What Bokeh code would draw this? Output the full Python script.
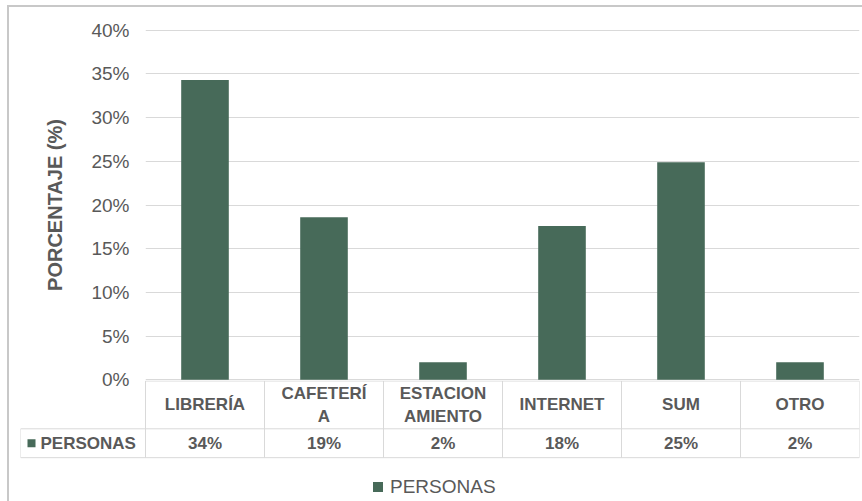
import numpy as np
from bokeh.plotting import figure
from bokeh.layouts import column
from bokeh.models import Range1d, FixedTicker, NumeralTickFormatter, Legend, LegendItem
from bokeh.core.properties import value
from bokeh.embed import file_html
from bokeh.resources import INLINE

# ---- data ----
categories = ["LIBRERÍA", "CAFETERÍA", "ESTACIONAMIENTO", "INTERNET", "SUM", "OTRO"]
category_labels = ["LIBRERÍA", "CAFETERÍ\nA", "ESTACION\nAMIENTO", "INTERNET", "SUM", "OTRO"]
personas = [0.343, 0.186, 0.020, 0.176, 0.249, 0.020]
series_name = "PERSONAS"
y_ticks = [0, 0.05, 0.10, 0.15, 0.20, 0.25, 0.30, 0.35, 0.40]
y_title = "PORCENTAJE (%)"

# ---- styles ----
BAR = "#476a59"
TXT = "#595959"
GRID = "#d9d9d9"
FONT = "Liberation Sans"

n = len(categories)
xc = np.arange(n) + 0.5
OVERLAP = 14

# ---- main chart ----
p = figure(width=853, height=373 + OVERLAP, x_range=Range1d(0, n), y_range=Range1d(-0.0008, 0.4008),
           x_axis_location=None, output_backend="svg", toolbar_location=None,
           min_border_left=136, min_border_right=3, min_border_top=22, min_border_bottom=OVERLAP,
           background_fill_color="white", border_fill_color="white")
p.frame_align = False
p.outline_line_color = None
p.xgrid.visible = False
p.ygrid.grid_line_color = GRID
p.ygrid.grid_line_width = 1
p.yaxis.ticker = FixedTicker(ticks=y_ticks)
p.yaxis.formatter = NumeralTickFormatter(format="0%")
p.yaxis.axis_line_color = None
p.yaxis.major_tick_line_color = None
p.yaxis.minor_tick_line_color = None
p.yaxis.major_tick_out = 0
p.yaxis.major_label_standoff = 16
p.yaxis.major_label_text_font = FONT
p.yaxis.major_label_text_font_size = "19px"
p.yaxis.major_label_text_color = TXT
p.yaxis.axis_label = y_title
p.yaxis.axis_label_text_font = FONT
p.yaxis.axis_label_text_font_size = "20px"
p.yaxis.axis_label_text_font_style = "bold"
p.yaxis.axis_label_text_color = TXT
p.yaxis.axis_label_standoff = 22

p.vbar(x=xc, top=personas, width=0.40, fill_color=BAR, line_color=None)

# ---- data table + legend ----
HEADER_H = 48
ROW_H = 29
first_col = 125 / 119.0
t = figure(width=853, height=121, x_range=Range1d(-first_col, n), y_range=Range1d(-121, 0.5),
           x_axis_location=None, y_axis_location=None, output_backend="svg", toolbar_location=None,
           min_border_left=11, min_border_right=3, min_border_top=0, min_border_bottom=0,
           background_fill_alpha=0, border_fill_alpha=0,
           styles={"margin-top": f"-{OVERLAP}px"})
t.frame_align = False
t.outline_line_color = None
t.xgrid.visible = False
t.ygrid.visible = False

bottom = -(HEADER_H + ROW_H)
# vertical lines
vx = list(range(n + 1))
t.segment(x0=vx, y0=[0] * len(vx), x1=vx, y1=[bottom] * len(vx), line_color=GRID, line_width=1)
t.segment(x0=[-first_col], y0=[-HEADER_H], x1=[-first_col], y1=[bottom], line_color=GRID, line_width=1)
# horizontal lines
t.segment(x0=[0, -first_col, -first_col], y0=[0, -HEADER_H, bottom],
          x1=[n, n, n], y1=[0, -HEADER_H, bottom], line_color=GRID, line_width=1)

t.text(x=xc, y=[-HEADER_H / 2] * n, text=category_labels, text_align="center",
       text_baseline="middle", text_font=value(FONT), text_font_size="17px",
       text_font_style="bold", text_color=TXT, text_line_height=1.25)
t.text(x=xc, y=[-HEADER_H - ROW_H / 2] * n, text=[f"{round(v * 100)}%" for v in personas],
       text_align="center", text_baseline="middle", text_font=value(FONT), text_font_size="17px",
       text_font_style="bold", text_color=TXT)
marker_r = t.scatter(x=[-first_col + 11 / 119.0], y=[-HEADER_H - ROW_H / 2], marker="square", size=8,
                     fill_color=BAR, line_color=None)
t.text(x=[-first_col + 20 / 119.0], y=[-HEADER_H - ROW_H / 2], text=[series_name],
       text_align="left", text_baseline="middle", text_font=value(FONT), text_font_size="17px",
       text_font_style="bold", text_color=TXT)

legend = Legend(items=[LegendItem(label=series_name, renderers=[marker_r])], location=(345, 2),
                orientation="horizontal", padding=0, margin=0, spacing=0,
                glyph_width=25, glyph_height=25, label_standoff=-3,
                label_text_font=FONT, label_text_font_size="19px", label_text_color=TXT,
                border_line_color=None, background_fill_alpha=0)
t.add_layout(legend)

layout = column(p, t, spacing=0,
                styles={"margin-left": "7px", "margin-top": "5px",
                        "border-left": "2px solid #c8c8c8", "border-top": "2px solid #c8c8c8"})

open("out.html", "w").write(file_html(layout, INLINE))
